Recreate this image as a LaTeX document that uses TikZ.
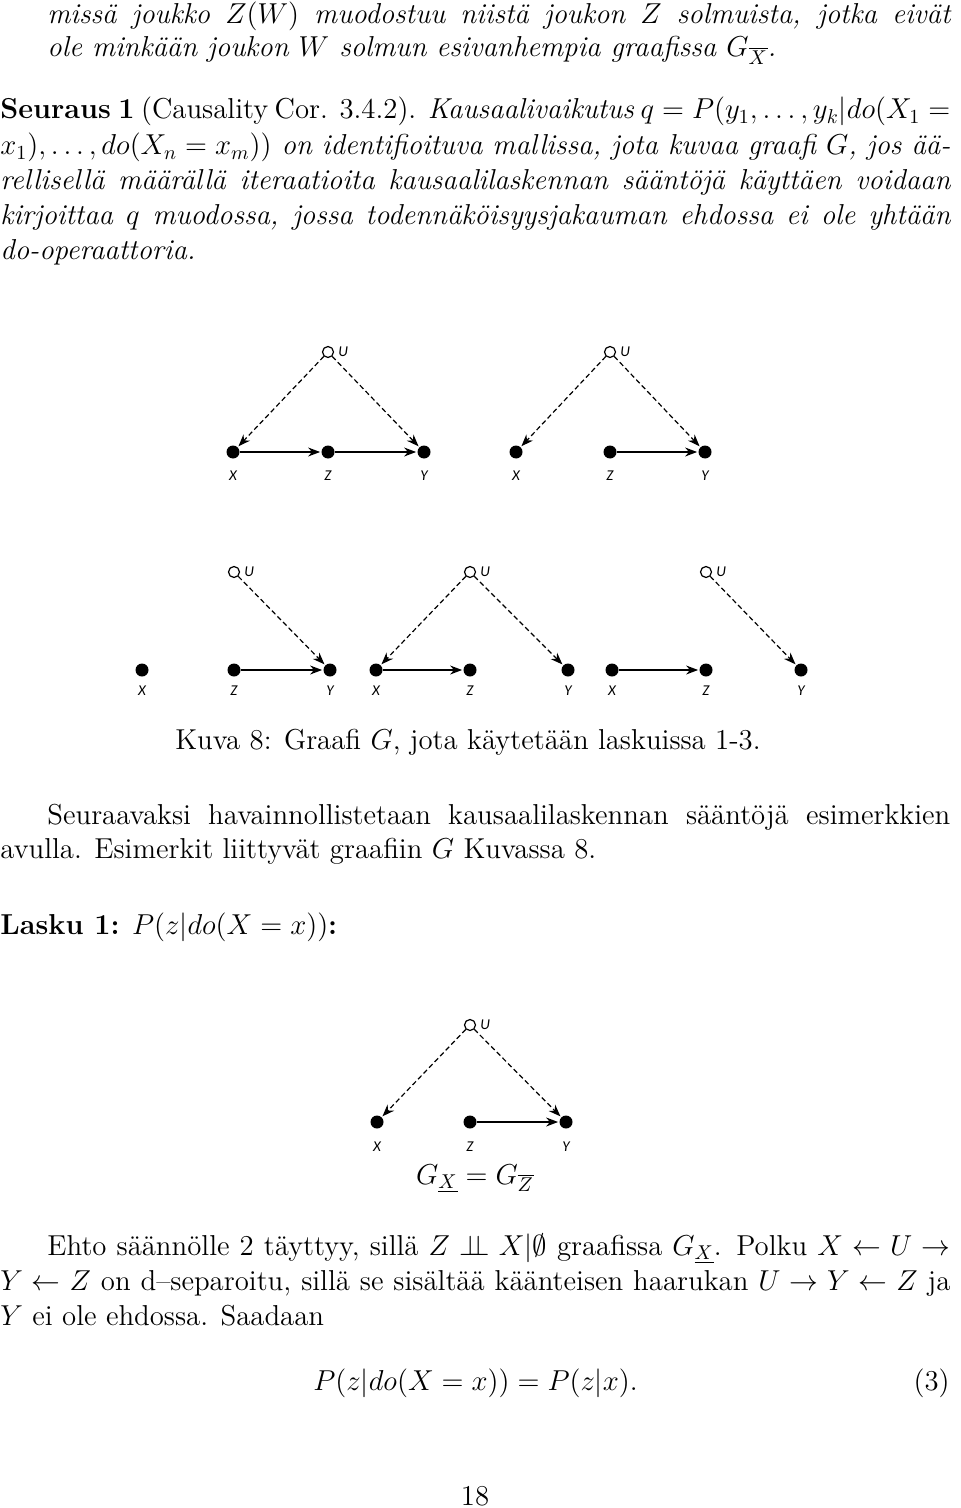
\documentclass[tikz,border=0pt]{standalone}
\usepackage{fontspec}
\usepackage{amssymb}
\newfontfamily\lblfont{Carlito}
\usetikzlibrary{arrows.meta}
\newcommand{\ind}{\perp\!\!\!\perp}
\begin{document}
\begin{tikzpicture}[x=0.5pt,y=-0.5pt,
  dot/.style={circle,fill=black,inner sep=0pt,minimum size=6.5pt},
  hol/.style={circle,draw=black,fill=white,line width=0.6pt,inner sep=0pt,minimum size=5.5pt},
  lbl/.style={font=\lblfont\itshape\fontsize{7.5}{9}\selectfont,inner sep=0pt},
  sol/.style={line width=0.6pt,-{Stealth[length=6pt,width=4.5pt]},shorten >=0.5pt},
  das/.style={sol,dash pattern=on 2.5pt off 1.5pt},
  ln/.style={anchor=base west,inner sep=0pt,font=\fontsize{14.4}{17.5}\selectfont}]
\useasboundingbox (0,0) rectangle (960,1508);
% text
\node[ln] (t1) at (47,24) {\makebox[451.5pt][s]{\itshape missä joukko $Z(W)$ muodostuu niistä joukon $Z$ solmuista, jotka eivät}};
\node[ln] (t2) at (47,57) {\itshape ole minkään joukon $W$ solmun esivanhempia graafissa $G_{\overline{X}}$.};
\node[ln] (t3) at (0,119) {\makebox[475pt][s]{\textbf{Seuraus 1} (Causality Cor. 3.4.2). \textit{Kausaalivaikutus} $q=P(y_1,\ldots,y_k|do(X_1=$}};
\node[ln] (t4) at (0,155) {\makebox[475pt][s]{\itshape $x_1),\ldots,do(X_n=x_m))$ on identifioituva mallissa, jota kuvaa graafi $G$, jos ää-}};
\node[ln] (t5) at (0,190) {\makebox[475pt][s]{\itshape rellisellä määrällä iteraatioita kausaalilaskennan sääntöjä käyttäen voidaan}};
\node[ln] (t6) at (0,225) {\makebox[475pt][s]{\itshape kirjoittaa $q$ muodossa, jossa todennäköisyysjakauman ehdossa ei ole yhtään}};
\node[ln] (t7) at (0,260) {\itshape do-operaattoria.};
% graph row 1
\node[hol] (u1) at (328,352) {}; \node[lbl,anchor=west] at (338,352) {U};
\node[dot] (x1) at (233,452) {}; \node[dot] (z1) at (328,452) {}; \node[dot] (y1) at (424,452) {};
\node[lbl] at (233,476) {X}; \node[lbl] at (328,476) {Z}; \node[lbl] at (424,476) {Y};
\draw[das] (u1) -- (x1); \draw[das] (u1) -- (y1); \draw[sol] (x1) -- (z1); \draw[sol] (z1) -- (y1);
\node[hol] (u2) at (610,352) {}; \node[lbl,anchor=west] at (620,352) {U};
\node[dot] (x2) at (516,452) {}; \node[dot] (z2) at (610,452) {}; \node[dot] (y2) at (705,452) {};
\node[lbl] at (516,476) {X}; \node[lbl] at (610,476) {Z}; \node[lbl] at (705,476) {Y};
\draw[das] (u2) -- (x2); \draw[das] (u2) -- (y2); \draw[sol] (z2) -- (y2);
% row 2
\node[hol] (u3) at (234,572) {}; \node[lbl,anchor=west] at (244,572) {U};
\node[dot] (x3) at (142,670) {}; \node[dot] (z3) at (234,670) {}; \node[dot] (y3) at (330,670) {};
\node[lbl] at (142,691) {X}; \node[lbl] at (234,691) {Z}; \node[lbl] at (330,691) {Y};
\draw[das] (u3) -- (y3); \draw[sol] (z3) -- (y3);
\node[hol] (u4) at (470,572) {}; \node[lbl,anchor=west] at (480,572) {U};
\node[dot] (x4) at (376,670) {}; \node[dot] (z4) at (470,670) {}; \node[dot] (y4) at (568,670) {};
\node[lbl] at (376,691) {X}; \node[lbl] at (470,691) {Z}; \node[lbl] at (568,691) {Y};
\draw[das] (u4) -- (x4); \draw[das] (u4) -- (y4); \draw[sol] (x4) -- (z4);
\node[hol] (u5) at (706,572) {}; \node[lbl,anchor=west] at (716,572) {U};
\node[dot] (x5) at (612,670) {}; \node[dot] (z5) at (706,670) {}; \node[dot] (y5) at (801,670) {};
\node[lbl] at (612,691) {X}; \node[lbl] at (706,691) {Z}; \node[lbl] at (801,691) {Y};
\draw[das] (u5) -- (y5); \draw[sol] (x5) -- (z5);
% caption
\node[ln,anchor=base] (cap) at (468,749) {Kuva 8: Graafi $G$, jota käytetään laskuissa 1-3.};
\node[ln] (t8) at (47,824) {\makebox[451.5pt][s]{Seuraavaksi havainnollistetaan kausaalilaskennan sääntöjä esimerkkien}};
\node[ln] (t9) at (0,858) {avulla. Esimerkit liittyvät graafiin $G$ Kuvassa 8.};
\node[ln] (t10) at (0,934) {\textbf{Lasku 1:} $P(z|do(X=x))$\textbf{:}};
% bottom graph
\node[hol] (u6) at (470,1025) {}; \node[lbl,anchor=west] at (480,1025) {U};
\node[dot] (x6) at (377,1122) {}; \node[dot] (z6) at (470,1122) {}; \node[dot] (y6) at (566,1122) {};
\node[lbl] at (377,1147) {X}; \node[lbl] at (470,1147) {Z}; \node[lbl] at (566,1147) {Y};
\draw[das] (u6) -- (x6); \draw[das] (u6) -- (y6); \draw[sol] (z6) -- (y6);
\node[ln,anchor=base] (eq) at (475,1184) {$G_{\underline{X}}=G_{\overline{Z}}$};
\node[ln] (t11) at (47,1255) {\makebox[451.5pt][s]{Ehto säännölle 2 täyttyy, sillä $Z\ind X|\emptyset$ graafissa $G_{\underline{X}}$. Polku $X\leftarrow U\rightarrow$}};
\node[ln] (t12) at (0,1290) {\makebox[475pt][s]{$Y\leftarrow Z$ on d--separoitu, sillä se sisältää käänteisen haarukan $U\rightarrow Y\leftarrow Z$ ja}};
\node[ln] (t13) at (0,1325) {$Y$ ei ole ehdossa. Saadaan};
\node[ln] (eq2) at (313,1390) {$P(z|do(X=x))=P(z|x).$};
\node[ln,anchor=base east] (eqn) at (950,1390) {(3)};
\node[ln,anchor=base] (pg) at (475,1505) {18};
\end{tikzpicture}
\end{document}
